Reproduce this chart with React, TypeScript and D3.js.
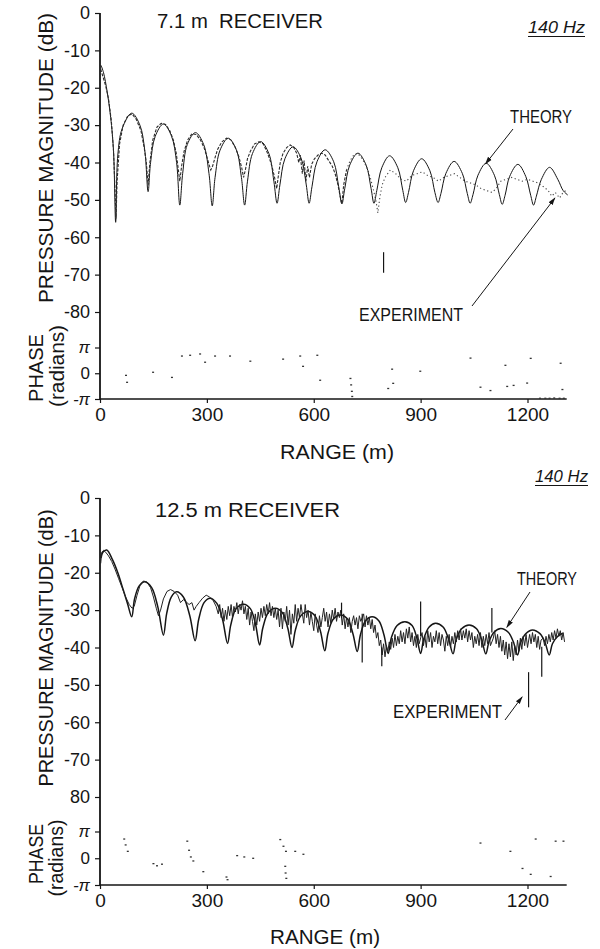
import * as d3 from 'd3';
import { useEffect, useRef } from 'react';

// ---- data (range in m, level in dB, phase in units of pi) ----
const RANGE_TICKS = [0, 300, 600, 900, 1200];
const DB_TICKS = [0, -10, -20, -30, -40, -50, -60, -70, -80];
const TOP_DB_LABELS = ['0', '-10', '-20', '-30', '-40', '-50', '-60', '-70', '-80'];
const BOTTOM_DB_LABELS = ['0', '-10', '-20', '-30', '-40', '-50', '-60', '-70', '80'];
const PHASE_TICKS = [Math.PI, 0, -Math.PI];
const PHASE_LABELS = ['\u03c0', '0', '-\u03c0'];
const RANGE_END = 1310;

const topTheory: [number, number][] = [
  [3, -14], [10, -16], [20, -21], [30, -28], [38, -37], [44, -56],
  [50, -38], [62, -31], [89, -26.8], [112, -30], [126, -37], [135, -47.8],
  [142, -40], [155, -33], [178, -29.7], [201, -33], [215, -40], [224, -51.4],
  [232, -43], [245, -35.2], [268, -32], [291, -35.2], [306, -43], [315, -51.6],
  [323, -44], [337, -36.7], [360, -33.5], [383, -36.7], [397, -44], [406, -51.4],
  [414, -45], [428, -37.6], [451, -34.4], [474, -37.6], [488, -45], [497, -50.9],
  [505, -46], [519, -39], [542, -35.8], [565, -39], [579, -46], [587, -50.9],
  [595, -46.5], [609, -39.8], [632, -36.6], [656, -39.8], [670, -46.5], [679, -51.1],
  [687, -47], [701, -40.7], [724, -37.5], [747, -40.7], [761, -47], [769, -50.9],
  [777, -47.5], [791, -41.4], [813, -38.2], [836, -41.4], [850, -47.5], [858, -50.7],
  [866, -48], [880, -42.2], [903, -39], [926, -42.2], [940, -48], [949, -50.7],
  [957, -48.3], [971, -42.9], [994, -39.7], [1017, -42.9], [1031, -48.3], [1039, -50.9],
  [1047, -48.6], [1061, -43.4], [1084, -40.2], [1107, -43.4], [1121, -48.6], [1129, -51.2],
  [1137, -48.8], [1150, -43.7], [1173, -40.5], [1195, -43.7], [1209, -48.8], [1217, -51.4],
  [1225, -49], [1239, -44.5], [1262, -41.3], [1285, -44.5], [1300, -47.5], [1313, -48.7],
];

const topExperiment: [number, number][] = [
  [2, -15], [8, -17], [16, -19.5], [24, -23], [32, -29], [38, -37], [42, -47], [45, -55], [48, -45],
  [55, -35], [65, -30], [78, -27.5], [90, -27], [102, -28.5], [115, -31.5], [124, -36], [130, -40],
  [135, -46], [140, -40], [148, -34], [160, -30.5], [172, -29.5], [184, -29.8], [196, -31.5], [206, -34],
  [214, -37.5], [220, -42], [224, -45], [229, -41], [236, -37], [246, -34], [258, -32.3], [270, -32.5],
  [282, -34], [292, -36], [300, -38.5], [306, -40.5], [311, -42], [316, -41], [322, -39], [330, -36.5],
  [342, -34.5], [355, -33.5], [368, -34], [380, -36], [390, -38.5], [398, -41.5], [403, -44], [408, -42],
  [414, -39], [422, -37], [434, -35], [446, -34.5], [458, -35], [468, -37], [476, -39], [484, -41.5],
  [490, -44], [496, -47], [500, -44], [506, -40], [514, -37.5], [524, -36], [534, -35.3], [544, -36],
  [552, -37.5], [558, -40], [562, -38], [568, -43], [573, -39.5], [578, -45], [583, -41], [588, -44],
  [594, -40.5], [602, -39], [612, -38], [622, -37.5], [632, -38], [642, -39.5], [652, -41], [660, -43],
  [668, -46], [674, -49], [679, -51], [684, -46], [692, -42], [702, -39.5], [712, -38], [722, -37.5],
  [732, -38.5], [742, -40], [752, -42], [760, -44.5], [768, -47.5], [775, -50.5], [780, -53.5], [786, -49],
  [792, -46], [800, -44], [815, -42], [830, -43], [845, -44.5], [860, -45], [875, -43.5], [890, -43],
  [905, -42.5], [920, -43.5], [935, -44], [950, -45], [965, -44], [980, -43.5], [995, -43], [1010, -44],
  [1025, -45], [1040, -45.5], [1055, -46], [1070, -47], [1085, -47.5], [1100, -48], [1112, -47],
  [1125, -45], [1140, -44.5], [1155, -44], [1170, -44.5], [1185, -45], [1200, -44.5], [1215, -45],
  [1230, -45.5], [1245, -46.5], [1258, -47.5], [1268, -49], [1278, -48], [1290, -49.5], [1300, -48],
  [1308, -47.5],
];

// [range, upper dB, lower dB]
const topSpikes: [number, number, number][] = [
  [796, -64, -69.5],
];

const topPhase: [number, number][] = [
  [73, -0.08], [76, -0.35], [149, 0.04], [202, -0.16], [230, 0.67], [253, 0.7], [281, 0.75],
  [295, 0.43], [323, 0.67], [365, 0.67], [422, 0.47], [514, 0.55], [562, 0.67], [570, 0.27],
  [610, 0.7], [618, -0.27], [703, -0.2], [705, -0.45], [707, -0.7], [708, -0.9], [809, -0.59],
  [820, 0.16], [823, -0.39], [899, 0.08], [1040, 0.59], [1068, -0.54], [1096, -0.67], [1138, 0.31],
  [1143, -0.51], [1161, -0.47], [1199, -0.38], [1209, 0.58], [1293, 0.39], [1298, -0.63],
  [1235, -0.97], [1250, -0.97], [1262, -0.97], [1275, -0.96], [1290, -0.97], [1302, -0.97],
];

const bottomTheory: [number, number][] = [
  [3, -16], [8, -14.5], [19, -13.9], [35, -16.5], [50, -20], [65, -24.5], [78, -28.5], [89, -31.8],
  [97, -27], [110, -23.5], [126, -22.4], [145, -24], [162, -29], [178, -36.7],
  [187, -31], [200, -26.5], [215, -25.1], [234, -26.5], [252, -31.5], [267, -38.2],
  [277, -32.5], [292, -28], [309, -26.8], [328, -28.2], [344, -32.5], [358, -38.9],
  [367, -34], [382, -29.6], [403, -28.4], [422, -29.6], [436, -33.5], [448, -39.3],
  [457, -34.8], [472, -30.7], [492, -29.5], [512, -30.7], [527, -34.8], [539, -40],
  [548, -35.5], [563, -31.6], [584, -30.4], [604, -31.6], [619, -35.7], [631, -40.9],
  [640, -36.2], [655, -32.4], [675, -31.3], [695, -32.4], [710, -36.3], [722, -41.1],
  [731, -36.6], [745, -32.9], [764, -31.8], [783, -32.9], [797, -36.6], [809, -41.6],
  [818, -37.3], [834, -34.1], [856, -33.1], [876, -34.1], [889, -37.3], [900, -41.6],
  [909, -37.6], [924, -34.5], [942, -33.5], [963, -34.5], [978, -37.6], [991, -41.7],
  [1000, -37.8], [1015, -35], [1036, -34], [1057, -35], [1071, -37.8], [1083, -41.7],
  [1092, -38.4], [1106, -35.9], [1125, -34.9], [1146, -35.9], [1160, -38.4], [1172, -42],
  [1181, -38.6], [1195, -36.3], [1214, -35.3], [1235, -36.3], [1249, -38.6], [1261, -42],
  [1270, -39], [1285, -37], [1299, -36.2],
];

const bottomExperiment: [number, number][] = [
  [2, -17.5], [5, -14.5], [10, -14], [16, -14.5], [24, -15.5], [33, -17], [42, -19], [52, -21.5],
  [62, -24], [72, -26.5], [82, -28.5], [90, -29.5], [96, -29], [104, -26], [112, -23.5], [122, -22.2],
  [132, -22.5], [142, -24], [150, -26.5], [158, -29.5], [164, -31.5], [170, -30], [178, -27], [188, -25],
  [198, -24.5], [208, -25], [218, -26], [226, -28], [234, -27.2], [242, -27.8], [250, -28.5], [258, -28],
  [264, -30], [270, -29], [278, -28], [288, -26.8], [298, -26], [308, -26.5], [318, -27.5], [326, -29],
  [332, -31], [336, -28.5], [340, -32], [344, -29.5], [348, -33], [352, -30], [356, -32.5], [360, -29],
  [364, -31.5], [368, -28.5], [372, -32], [376, -29], [380, -30.5], [384, -28], [388, -31], [392, -28.5],
  [396, -30], [400, -27.5], [404, -31], [408, -29], [412, -32.5], [416, -29.5], [420, -34], [424, -30.5],
  [428, -33], [432, -35.5], [436, -31], [440, -34], [444, -30.5], [448, -33], [452, -29.5], [456, -32],
  [460, -29], [464, -31.5], [468, -28.5], [472, -31], [476, -28], [480, -31.5], [484, -29], [488, -32],
  [492, -29.5], [496, -32.5], [500, -30], [504, -34.5], [508, -29.5], [512, -35], [516, -30.5], [520, -33],
  [524, -29], [528, -34], [532, -30], [536, -36.5], [540, -31], [544, -33.5], [548, -28.5], [552, -33],
  [556, -29.5], [560, -32], [564, -28.5], [568, -31], [572, -33.5], [576, -28.5], [580, -32], [584, -30],
  [588, -34], [592, -30.5], [596, -33], [600, -35.5], [604, -31], [608, -34], [612, -36], [616, -31.5],
  [620, -34.5], [624, -32], [628, -29.5], [632, -33], [636, -30.5], [640, -34.5], [644, -31], [648, -33.5],
  [652, -30], [656, -32.5], [660, -29.5], [664, -33], [668, -30.5], [672, -32], [676, -30], [680, -34],
  [684, -31], [688, -35], [692, -32], [696, -34.5], [700, -32], [704, -36], [708, -33], [712, -31.5],
  [716, -34], [720, -32], [724, -35], [728, -31.5], [732, -33], [740, -31], [744, -34.5], [748, -31.5],
  [752, -34], [756, -32], [760, -35], [764, -32.5], [768, -36], [772, -34], [776, -37.5], [780, -36],
  [784, -39.5], [788, -38], [792, -42], [796, -39], [800, -42.5], [804, -39.5], [808, -41], [812, -38.5],
  [816, -40.5], [820, -37.5], [824, -40], [828, -36.5], [832, -39.5], [836, -37], [840, -39], [844, -35.5],
  [848, -38.5], [852, -36], [856, -39], [860, -35], [864, -37.5], [868, -34.5], [872, -38.5], [876, -36],
  [880, -39.5], [884, -37], [888, -40], [892, -36.5], [896, -39], [904, -36], [908, -39.5], [912, -37],
  [916, -40], [920, -35.5], [924, -38.5], [928, -36], [932, -40], [936, -37], [940, -38.5], [944, -35.5],
  [948, -39], [952, -36], [956, -39.5], [960, -36.5], [964, -38], [968, -41], [972, -37], [976, -39.5],
  [980, -36.5], [984, -40], [988, -37], [992, -39], [996, -36], [1000, -38.5], [1004, -35.5], [1008, -38],
  [1012, -35], [1016, -38], [1020, -35.5], [1024, -37.5], [1028, -35], [1032, -38.5], [1036, -35.5],
  [1040, -38], [1044, -36], [1048, -40], [1052, -37], [1056, -39], [1060, -36.5], [1064, -39.5], [1068, -36],
  [1072, -40], [1076, -37], [1080, -39.5], [1084, -36.5], [1088, -39], [1092, -36], [1096, -39.5],
  [1104, -37.5], [1108, -35.5], [1112, -39], [1116, -36.5], [1120, -40], [1124, -37], [1128, -41],
  [1132, -38], [1136, -42], [1140, -38.5], [1144, -43], [1148, -39], [1152, -42.5], [1156, -38.5],
  [1160, -43.5], [1164, -39.5], [1168, -42], [1172, -38], [1176, -41], [1180, -37.5], [1184, -40.5],
  [1188, -37], [1192, -39.5], [1196, -36.5], [1200, -40], [1206, -36.5], [1210, -39], [1214, -36],
  [1218, -38.5], [1222, -36.5], [1226, -40], [1230, -37], [1234, -40.5], [1238, -38], [1244, -37.5],
  [1248, -39.5], [1252, -37], [1256, -39], [1260, -36.5], [1264, -38.5], [1268, -36], [1272, -38],
  [1276, -35.5], [1280, -37.5], [1284, -35], [1288, -37], [1292, -35.5], [1296, -38], [1300, -36],
  [1304, -38.5],
];

const bottomSpikes: [number, number, number][] = [
  [678, -28, -32], [736, -31, -44], [791, -40, -45], [900, -27.7, -37], [1100, -29.4, -36],
  [1203, -46.6, -56], [1240, -39.8, -47.8],
];

const bottomPhase: [number, number][] = [
  [68, 0.72], [72, 0.5], [78, 0.26], [150, -0.2], [160, -0.28], [174, -0.22], [245, 0.64],
  [250, 0.3], [255, 0.05], [262, -0.1], [290, -0.5], [355, -0.7], [358, -0.8], [385, 0.1],
  [405, 0.05], [430, 0.0], [506, 0.7], [515, 0.45], [522, 0.26], [520, -0.3], [521, -0.55],
  [523, -0.75], [548, 0.26], [571, 0.15], [1068, 0.57], [1152, 0.26], [1186, -0.38], [1209, -0.6],
  [1223, 0.72], [1265, -0.68], [1279, 0.64], [1301, 0.64],
];

const FONT = "'Liberation Sans', Arial, sans-serif";
const INK = '#151515';

const PANELS = [
  {
    theory: topTheory, experiment: topExperiment, spikes: topSpikes, phase: topPhase,
    dbLabels: TOP_DB_LABELS, y0: 13, y80: 312, phHi: 347.5, phLo: 399,
    title: { text: '7.1 m  RECEIVER', x: 157, y: 28, len: 166 },
    hz: { x: 528, y: 33, len: 57 },
    yLabel: { cx: 45, cy: 158, len: 290 },
    phaseLabel: { cx: 35, cy: 368, len: 68 },
    radLabel: { cx: 57, cy: 366, len: 82 },
    rangeLabel: { cx: 337, y: 459, len: 114 },
    theoryLabel: { x: 510, y: 123, len: 62, tail: [513, 129], tip: [1082, -40.4] },
    expLabel: { x: 359, y: 321, len: 104, tail: [472, 306], tip: [1277, -49.5] },
    splitAt: 700,
  },
  {
    theory: bottomTheory, experiment: bottomExperiment, spikes: bottomSpikes, phase: bottomPhase,
    dbLabels: BOTTOM_DB_LABELS, y0: 498, y80: 797, phHi: 831.5, phLo: 885,
    title: { text: '12.5 m RECEIVER', x: 155, y: 517, len: 185 },
    hz: { x: 535, y: 482, len: 53 },
    yLabel: { cx: 45, cy: 648, len: 277 },
    phaseLabel: { cx: 35, cy: 854, len: 60 },
    radLabel: { cx: 56, cy: 858, len: 77 },
    rangeLabel: { cx: 325, y: 944, len: 110 },
    theoryLabel: { x: 517, y: 585, len: 60, tail: [530, 592], tip: [1142, -34.6] },
    expLabel: { x: 393, y: 718, len: 109, tail: [505, 720], tip: [1185, -53.2] },
    splitAt: null,
  },
];

const App = () => {
  const svgRef = useRef<SVGSVGElement>(null);

  useEffect(() => {
    const svg = d3.select(svgRef.current);
    svg.selectAll('*').remove();

    svg.append('rect').attr('width', 600).attr('height', 949).attr('fill', '#fff');

    svg.append('defs')
      .append('marker')
      .attr('id', 'arrow')
      .attr('viewBox', '0 0 10 10')
      .attr('refX', 9)
      .attr('refY', 5)
      .attr('markerWidth', 8)
      .attr('markerHeight', 8)
      .attr('orient', 'auto')
      .append('path')
      .attr('d', 'M0,2 L10,5 L0,8 Z')
      .attr('fill', INK);

    const x = d3.scaleLinear([0, 1200], [100, 527.5]);

    PANELS.forEach((p) => {
      const y = d3.scaleLinear([0, -80], [p.y0, p.y80]);
      const ph = d3.scaleLinear([-Math.PI, Math.PI], [p.phLo, p.phHi]);
      const g = svg.append('g');

      // axis lines
      g.append('line')
        .attr('x1', x(0)).attr('x2', x(0))
        .attr('y1', y(0)).attr('y2', ph(-Math.PI))
        .attr('stroke', INK).attr('stroke-width', 1.8);
      g.append('line')
        .attr('x1', x(0)).attr('x2', x(RANGE_END))
        .attr('y1', ph(-Math.PI)).attr('y2', ph(-Math.PI))
        .attr('stroke', INK).attr('stroke-width', 1.5);

      const styleAxis = (a, size) => {
        a.select('.domain').remove();
        a.selectAll('.tick line').attr('stroke', INK).attr('stroke-width', 1.2);
        a.selectAll('.tick text')
          .attr('font-family', FONT)
          .attr('font-size', size)
          .attr('fill', INK);
      };

      g.append('g')
        .attr('transform', `translate(${x(0)},0)`)
        .call(d3.axisLeft(y).tickValues(DB_TICKS).tickFormat((d, i) => p.dbLabels[i]).tickSize(5).tickPadding(5))
        .call((a) => styleAxis(a, 18));

      g.append('g')
        .attr('transform', `translate(${x(0)},0)`)
        .call(d3.axisLeft(ph).tickValues(PHASE_TICKS).tickFormat((d, i) => PHASE_LABELS[i]).tickSize(5).tickPadding(5))
        .call((a) => {
          styleAxis(a, 17);
          a.selectAll('.tick text').attr('font-style', (d) => (d === 0 ? 'normal' : 'italic'));
        });

      g.append('g')
        .attr('transform', `translate(0,${ph(-Math.PI)})`)
        .call(d3.axisBottom(x).tickValues(RANGE_TICKS).tickFormat(d3.format('d')).tickSize(4).tickPadding(5))
        .call((a) => styleAxis(a, 19));

      // theory
      const smooth = d3.line<[number, number]>()
        .x((d) => x(d[0]))
        .y((d) => y(d[1]))
        .curve(d3.curveCatmullRom.alpha(0.5));
      const jagged = d3.line<[number, number]>()
        .x((d) => x(d[0]))
        .y((d) => y(d[1]));

      g.append('path')
        .datum(p.theory)
        .attr('fill', 'none')
        .attr('stroke', INK)
        .attr('stroke-width', p.splitAt ? 1 : 1.5)
        .attr('d', smooth);

      // experiment
      if (p.splitAt) {
        const near = p.experiment.filter((d) => d[0] <= p.splitAt);
        const far = p.experiment.filter((d) => d[0] >= p.splitAt - 10);
        g.append('path').datum(near)
          .attr('fill', 'none').attr('stroke', '#2a2a2a').attr('stroke-width', 1.1)
          .attr('stroke-dasharray', '3,1.5').attr('d', jagged);
        g.append('path').datum(far)
          .attr('fill', 'none').attr('stroke', '#444').attr('stroke-width', 1.1)
          .attr('stroke-dasharray', '1.2,2.6').attr('d', jagged);
      } else {
        g.append('path').datum(p.experiment)
          .attr('fill', 'none').attr('stroke', '#222').attr('stroke-width', 1)
          .attr('d', jagged);
      }

      g.selectAll('line.spike')
        .data(p.spikes)
        .join('line')
        .attr('class', 'spike')
        .attr('x1', (d) => x(d[0])).attr('x2', (d) => x(d[0]))
        .attr('y1', (d) => y(d[1])).attr('y2', (d) => y(d[2]))
        .attr('stroke', INK).attr('stroke-width', 1.2);

      // phase scatter
      g.selectAll('rect.ph')
        .data(p.phase)
        .join('rect')
        .attr('class', 'ph')
        .attr('x', (d) => x(d[0]) - 1)
        .attr('y', (d) => ph(d[1] * Math.PI) - 0.6)
        .attr('width', 2)
        .attr('height', 1.3)
        .attr('fill', '#333');

      // text
      const text = (sel) => sel.attr('font-family', FONT).attr('fill', INK);

      g.append('text').call(text)
        .attr('x', p.title.x).attr('y', p.title.y)
        .attr('font-size', 20)
        .attr('textLength', p.title.len).attr('lengthAdjust', 'spacingAndGlyphs')
        .attr('xml:space', 'preserve')
        .text(p.title.text);

      g.append('text').call(text)
        .attr('x', p.hz.x).attr('y', p.hz.y)
        .attr('font-size', 16).attr('font-style', 'italic')
        .attr('textLength', p.hz.len).attr('lengthAdjust', 'spacingAndGlyphs')
        .text('140 Hz');
      g.append('line')
        .attr('x1', p.hz.x).attr('x2', p.hz.x + p.hz.len)
        .attr('y1', p.hz.y + 3.5).attr('y2', p.hz.y + 3.5)
        .attr('stroke', INK).attr('stroke-width', 1.1);

      const vertical = (lbl, str, size) => g.append('text').call(text)
        .attr('transform', `translate(${lbl.cx},${lbl.cy}) rotate(-90)`)
        .attr('text-anchor', 'middle')
        .attr('dominant-baseline', 'central')
        .attr('font-size', size)
        .attr('textLength', lbl.len).attr('lengthAdjust', 'spacingAndGlyphs')
        .text(str);
      vertical(p.yLabel, 'PRESSURE MAGNITUDE (dB)', 21);
      vertical(p.phaseLabel, 'PHASE', 21);
      vertical(p.radLabel, '(radians)', 20);

      g.append('text').call(text)
        .attr('x', p.rangeLabel.cx).attr('y', p.rangeLabel.y)
        .attr('text-anchor', 'middle')
        .attr('font-size', 21)
        .attr('textLength', p.rangeLabel.len).attr('lengthAdjust', 'spacingAndGlyphs')
        .text('RANGE (m)');

      [[p.theoryLabel, 'THEORY'], [p.expLabel, 'EXPERIMENT']].forEach(([lbl, str]) => {
        g.append('text').call(text)
          .attr('x', lbl.x).attr('y', lbl.y)
          .attr('font-size', 19)
          .attr('textLength', lbl.len).attr('lengthAdjust', 'spacingAndGlyphs')
          .text(str);
        g.append('line')
          .attr('x1', lbl.tail[0]).attr('y1', lbl.tail[1])
          .attr('x2', x(lbl.tip[0])).attr('y2', y(lbl.tip[1]))
          .attr('stroke', INK).attr('stroke-width', 1)
          .attr('marker-end', 'url(#arrow)');
      });
    });
  }, []);

  return (
    <svg
      ref={svgRef}
      width={600}
      height={949}
      style={{ position: 'absolute', left: 0, top: 0, display: 'block' }}
    />
  );
};

export default App;
